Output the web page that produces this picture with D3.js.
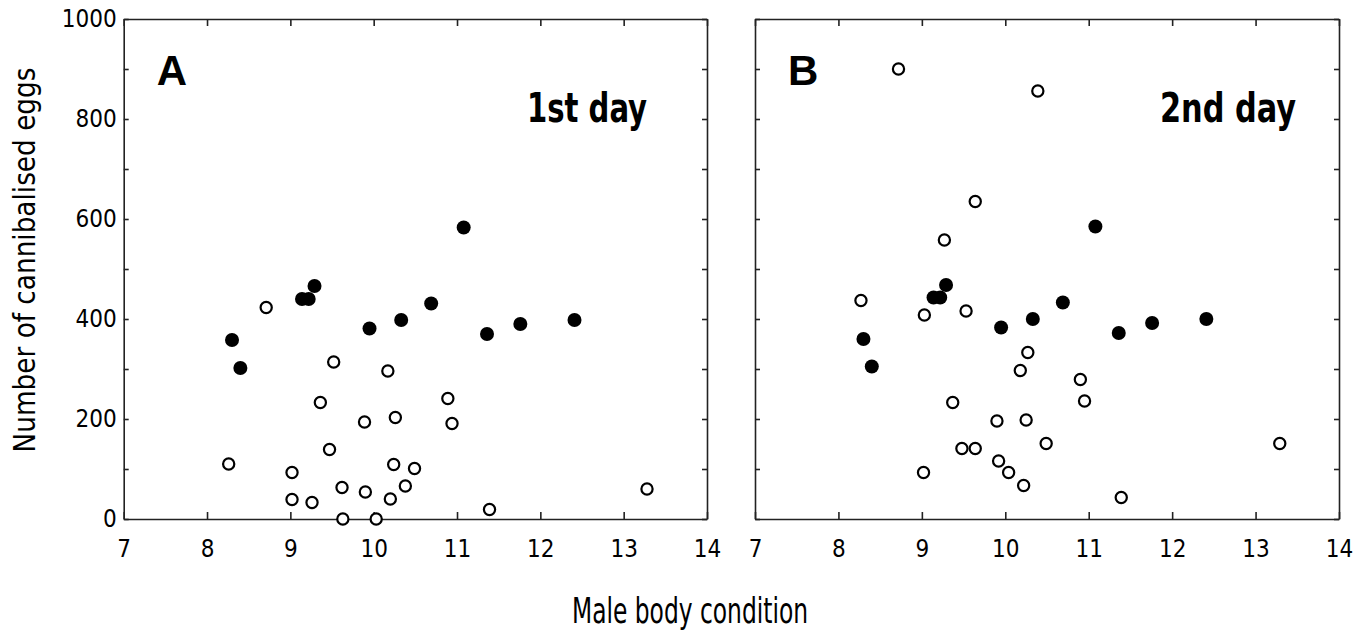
<!DOCTYPE html>
<html lang="en">
<head>
    <meta charset="UTF-8">
    <title>Cannibalised eggs vs male body condition</title>
    <script src="https://d3js.org/d3.v7.min.js"></script>
    <style>
        body { margin: 0; background: #fff; }
        svg text { font-family: "Liberation Sans Narrow", "DejaVu Sans Condensed", "Roboto", sans-serif; fill: #000; }
    </style>
</head>
<body>
    <svg width="1370" height="637"></svg>

    <script>
        // filled males (same in both days)
        const filledX = [8.30, 8.40, 9.14, 9.22, 9.29, 9.95, 10.33, 10.69, 11.08, 11.36, 11.76, 12.41];
        const filledYA = [358, 302, 440, 440, 466, 381, 398, 431, 583, 370, 390, 398];
        const filledYB = [360, 305, 443, 443, 468, 383, 400, 433, 585, 372, 392, 400];

        // open males, day 1
        const openAX = [8.26, 8.71, 9.02, 9.02, 9.26, 9.36, 9.47, 9.52, 9.62, 9.63, 9.89, 9.90,
                        10.03, 10.17, 10.20, 10.24, 10.26, 10.38, 10.49, 10.89, 10.94, 11.39, 13.28];
        const openAY = [110, 423, 93, 39, 33, 233, 139, 314, 63, 0, 194, 54,
                        0, 296, 40, 109, 203, 66, 101, 241, 191, 19, 60];

        // open males, day 2
        const openBX = [8.27, 8.72, 9.02, 9.03, 9.27, 9.37, 9.48, 9.53, 9.64, 9.64, 9.90, 9.92,
                        10.04, 10.18, 10.22, 10.25, 10.27, 10.39, 10.49, 10.90, 10.95, 11.39, 13.29];
        const openBY = [437, 900, 93, 408, 558, 233, 141, 416, 635, 141, 196, 116,
                        93, 297, 67, 198, 333, 856, 151, 279, 236, 43, 151];

        const xTicks = [7, 8, 9, 10, 11, 12, 13, 14];
        const yLabels = [0, 200, 400, 600, 800, 1000];
        const yMinor = d3.range(0, 1001, 100);

        const svg = d3.select("svg");
        const plotTop = 19, plotBottom = 519;

        const y = d3.scaleLinear().domain([0, 1000]).range([plotBottom, plotTop]);

        function drawPanel(left, right, ox, oy, fx, fy, letter, day, dayX, dayW, withYLabels) {
            const x = d3.scaleLinear().domain([7, 14]).range([left, right]);
            const g = svg.append("g");

            // bottom axis, ticks inward
            g.append("g")
                .attr("transform", `translate(0,${plotBottom})`)
                .call(d3.axisBottom(x).tickValues(xTicks).tickFormat(d3.format("d"))
                    .tickSizeInner(-7).tickSizeOuter(0).tickPadding(21))
                .call(a => a.selectAll("text").attr("font-size", 24));

            // top ticks
            g.append("g")
                .attr("transform", `translate(0,${plotTop})`)
                .call(d3.axisTop(x).tickValues(xTicks).tickSizeInner(-7).tickSizeOuter(0).tickFormat(""));

            // left axis
            g.append("g")
                .attr("transform", `translate(${left},0)`)
                .call(d3.axisLeft(y).tickValues(yMinor).tickSizeInner(-5).tickSizeOuter(0)
                    .tickPadding(7)
                    .tickFormat(d => withYLabels && yLabels.includes(d) ? d : ""))
                .call(a => a.selectAll("text").attr("font-size", 24));

            // right ticks
            g.append("g")
                .attr("transform", `translate(${right},0)`)
                .call(d3.axisRight(y).tickValues(yMinor).tickSizeInner(-5).tickSizeOuter(0).tickFormat(""));

            g.selectAll(".domain").attr("stroke", "#222").attr("stroke-width", 1.6);
            g.selectAll(".tick line").attr("stroke", "#222").attr("stroke-width", 1.6);

            const pts = svg.append("g");
            pts.selectAll("circle.open")
                .data(d3.zip(ox, oy))
                .enter().append("circle")
                .attr("class", "open")
                .attr("cx", d => x(d[0]))
                .attr("cy", d => y(d[1]))
                .attr("r", 5.6)
                .attr("fill", "#fff")
                .attr("stroke", "#000")
                .attr("stroke-width", 2.2);

            pts.selectAll("circle.filled")
                .data(d3.zip(fx, fy))
                .enter().append("circle")
                .attr("class", "filled")
                .attr("cx", d => x(d[0]))
                .attr("cy", d => y(d[1]))
                .attr("r", 7)
                .attr("fill", "#000");

            svg.append("text")
                .attr("x", left + 33)
                .attr("y", 85)
                .attr("font-size", 42)
                .attr("font-weight", "bold")
                .style("font-family", "'Liberation Sans', Arial, sans-serif")
                .text(letter);

            svg.append("text")
                .attr("x", dayX)
                .attr("y", 122)
                .attr("font-size", 40)
                .attr("font-weight", "bold")
                .attr("textLength", dayW)
                .attr("lengthAdjust", "spacingAndGlyphs")
                .text(day);
        }

        drawPanel(123.7, 707, openAX, openAY, filledX, filledYA, "A", "1st day", 527, 120, true);
        drawPanel(755, 1339, openBX, openBY, filledX, filledYB, "B", "2nd day", 1160, 136, false);

        svg.append("text")
            .attr("transform", "translate(35,260) rotate(-90)")
            .attr("text-anchor", "middle")
            .attr("font-size", 30)
            .attr("textLength", 385)
            .attr("lengthAdjust", "spacingAndGlyphs")
            .text("Number of cannibalised eggs");

        svg.append("text")
            .attr("x", 690)
            .attr("y", 623)
            .attr("text-anchor", "middle")
            .attr("font-size", 35)
            .attr("textLength", 236)
            .attr("lengthAdjust", "spacingAndGlyphs")
            .text("Male body condition");
    </script>
</body>
</html>
